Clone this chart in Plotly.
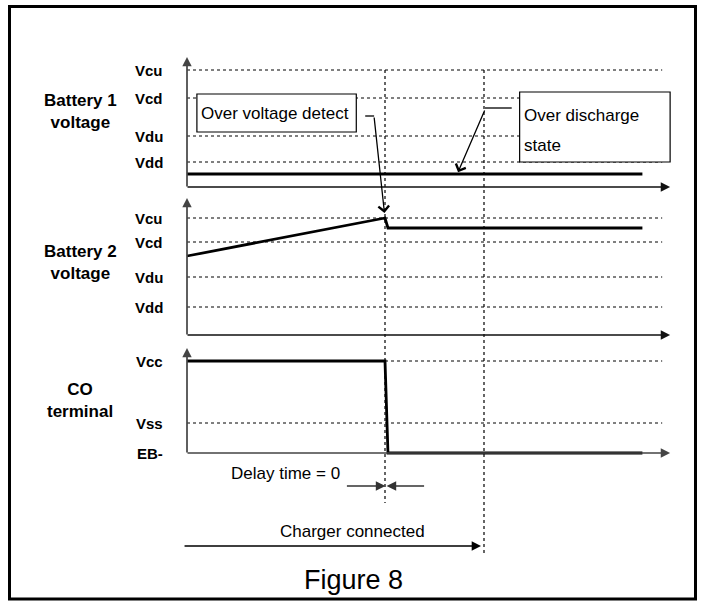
import plotly.graph_objects as go

# time axis (arbitrary units)
T_START = 0
T_DETECT = 10
T_RESPONSE = 10.15
T_CHARGER = 15
T_END = 23
T_GRID_END = 24
T_AXIS_END = 24.4

# threshold levels per panel (arbitrary units)
bat1_levels = ["Vdd", "Vdu", "Vcd", "Vcu"]
bat1_values = [2.5, 5.1, 8.9, 11.7]
bat2_levels = ["Vdd", "Vdu", "Vcd", "Vcu"]
bat2_values = [2.8, 5.8, 9.3, 11.7]
co_levels = ["EB-", "Vss", "Vcc"]
co_values = [0.0, 3.0, 9.2]

# waveforms
bat1_t = [T_START, T_END]
bat1_v = [1.3, 1.3]
bat2_t = [T_START, T_DETECT, T_RESPONSE, T_END]
bat2_v = [7.9, 11.7, 10.7, 10.7]
co_t = [T_START, T_DETECT, T_RESPONSE, T_END]
co_v = [9.2, 9.2, 0.0, 0.0]

W, H = 704, 605
X0_PX = 187
PX_PER_T = 19.8
PX_PER_V = 10
panel_base_px = [187, 335, 453]
axis_tops = [13.0, 13.7, 10.5]
FONT = "Liberation Sans, Arial, sans-serif"


def py(p):
    return 1 - p / H


def y3(p):
    # pixel row -> value on the CO panel axis (which spans the whole page)
    return (panel_base_px[2] - p) / PX_PER_V


fig = go.Figure()
yrefs = ["y", "y2", "y3"]

panels = [
    (bat1_levels, bat1_values, bat1_t, bat1_v),
    (bat2_levels, bat2_values, bat2_t, bat2_v),
    (co_levels, co_values, co_t, co_v),
]

annotations = []
shapes = []

for i, (levels, values, tt, vv) in enumerate(panels):
    yr = yrefs[i]
    # dotted level lines (skip baseline level of CO panel)
    for name, val in zip(levels, values):
        if val > 0:
            fig.add_trace(go.Scatter(
                x=[T_START, T_GRID_END], y=[val, val], yaxis=yr,
                mode="lines", line=dict(color="black", width=1, dash="dot"),
                hoverinfo="skip", showlegend=False
            ))
        annotations.append(dict(
            x=-1.1, y=val, xref="x", yref=yr, text=f"<b>{name}</b>",
            showarrow=False, xanchor="right", yanchor="middle",
            font=dict(family=FONT, size=15, color="black")
        ))
    # x axis arrow
    annotations.append(dict(
        x=T_AXIS_END, y=0, ax=T_START - 0.05, ay=0, xref="x", yref=yr,
        axref="x", ayref=yr, text="", showarrow=True, arrowhead=2,
        arrowsize=1.1, arrowwidth=1.7, arrowcolor="#111" if i < 2 else "#444"
    ))
    # y axis arrow
    annotations.append(dict(
        x=T_START, y=axis_tops[i], ax=T_START, ay=-0.1, xref="x", yref=yr,
        axref="x", ayref=yr, text="", showarrow=True, arrowhead=2,
        arrowsize=1.1, arrowwidth=1.7, arrowcolor="#444"
    ))
    # waveform
    fig.add_trace(go.Scatter(
        x=tt, y=vv, yaxis=yr, mode="lines",
        line=dict(color="black", width=2.8),
        hoverinfo="skip", showlegend=False
    ))

# panel titles
titles = [("Battery 1<br>voltage", 111), ("Battery 2<br>voltage", 262), ("CO<br>terminal", 400)]
for txt, ypx in titles:
    annotations.append(dict(
        x=80 / W, y=py(ypx), xref="paper", yref="paper", text=f"<b>{txt}</b>",
        showarrow=False, xanchor="center", yanchor="middle",
        font=dict(family=FONT, size=17, color="black")
    ))

# vertical dotted markers
shapes.append(dict(type="line", xref="x", yref="paper", x0=T_DETECT, x1=T_DETECT,
                   y0=py(70), y1=py(503), line=dict(color="black", width=1.2, dash="dot")))
shapes.append(dict(type="line", xref="x", yref="paper", x0=T_CHARGER, x1=T_CHARGER,
                   y0=py(70), y1=py(555), line=dict(color="black", width=1.2, dash="dot")))

# "Over voltage detect" callout
shapes.append(dict(type="rect", xref="x", yref="y", x0=0.5, x1=8.55, y0=5.5, y1=9.3,
                   line=dict(color="black", width=1.2), fillcolor="white"))
annotations.append(dict(
    x=0.6, y=7.4, xref="x", yref="y", text="Over voltage detect", showarrow=False,
    xanchor="left", yanchor="middle", font=dict(family=FONT, size=17, color="black")
))
shapes.append(dict(type="line", xref="x", yref="y", x0=9.0, x1=9.45, y0=7.1, y1=7.1,
                   line=dict(color="black", width=1.3)))
annotations.append(dict(
    x=T_DETECT, y=bat2_v[1], xref="x", yref="y2", ax=-11, ay=-102, text="",
    showarrow=True, arrowhead=4, arrowsize=1.6, arrowwidth=1.3, arrowcolor="black", standoff=5
))

# "Over discharge state" callout
shapes.append(dict(type="rect", xref="x", yref="y", x0=16.8, x1=24.4, y0=2.5, y1=9.5,
                   line=dict(color="black", width=1.2), fillcolor="white"))
annotations.append(dict(
    x=16.9, y=7.2, xref="x", yref="y", text="Over discharge", showarrow=False,
    xanchor="left", yanchor="middle", font=dict(family=FONT, size=17, color="black")
))
annotations.append(dict(
    x=16.9, y=4.2, xref="x", yref="y", text="state", showarrow=False,
    xanchor="left", yanchor="middle", font=dict(family=FONT, size=17, color="black")
))
shapes.append(dict(type="line", xref="x", yref="y", x0=15.05, x1=16.4, y0=7.9, y1=7.9,
                   line=dict(color="black", width=1.3)))
annotations.append(dict(
    x=13.65, y=bat1_v[0], xref="x", yref="y", ax=28, ay=-65, text="",
    showarrow=True, arrowhead=4, arrowsize=1.6, arrowwidth=1.3, arrowcolor="black", standoff=2
))

# delay time marker
annotations.append(dict(
    x=7.85, y=py(473), xref="x", yref="paper", text="Delay time = 0", showarrow=False,
    xanchor="right", yanchor="middle", font=dict(family=FONT, size=17, color="black")
))
annotations.append(dict(
    x=T_DETECT + 0.02, y=y3(486), ax=8.0, ay=y3(486), xref="x", yref="y3",
    axref="x", ayref="y3", text="", showarrow=True, arrowhead=2, arrowsize=1.2,
    arrowwidth=1.6, arrowcolor="#333"
))
annotations.append(dict(
    x=T_DETECT + 0.08, y=y3(486), ax=12.05, ay=y3(486), xref="x", yref="y3",
    axref="x", ayref="y3", text="", showarrow=True, arrowhead=2, arrowsize=1.2,
    arrowwidth=1.6, arrowcolor="#333"
))

# charger connected
annotations.append(dict(
    x=8.35, y=py(531), xref="x", yref="paper", text="Charger connected", showarrow=False,
    xanchor="center", yanchor="middle", font=dict(family=FONT, size=17, color="black")
))
annotations.append(dict(
    x=T_CHARGER - 0.15, y=y3(546), ax=-0.2, ay=y3(546), xref="x", yref="y3",
    axref="x", ayref="y3", text="", showarrow=True, arrowhead=2, arrowsize=1.1,
    arrowwidth=1.7, arrowcolor="black"
))

# caption
annotations.append(dict(
    x=353 / W, y=py(580), xref="paper", yref="paper", text="Figure 8", showarrow=False,
    xanchor="center", yanchor="middle", font=dict(family=FONT, size=27, color="black")
))

# outer frame
shapes.append(dict(type="rect", xref="paper", yref="paper", x0=9.5 / W, x1=695.5 / W,
                   y0=py(599), y1=py(6.5), line=dict(color="black", width=3)))


def yaxis_cfg(base_px, overlay):
    cfg = dict(range=[-(H - base_px) / PX_PER_V, base_px / PX_PER_V], visible=False,
               fixedrange=True, domain=[0, 1])
    if overlay:
        cfg.update(overlaying="y")
    return cfg


fig.update_layout(
    width=W, height=H,
    margin=dict(l=0, r=0, t=0, b=0),
    paper_bgcolor="white", plot_bgcolor="white",
    xaxis=dict(range=[-X0_PX / PX_PER_T, (W - X0_PX) / PX_PER_T], visible=False, fixedrange=True),
    yaxis=yaxis_cfg(panel_base_px[0], False),
    yaxis2=yaxis_cfg(panel_base_px[1], True),
    yaxis3=yaxis_cfg(panel_base_px[2], True),
    annotations=annotations,
    shapes=shapes,
    showlegend=False,
    font=dict(family=FONT, color="black"),
)

fig.write_html("out.html", config={"displayModeBar": False},
               post_script="document.body.style.margin='0';")
